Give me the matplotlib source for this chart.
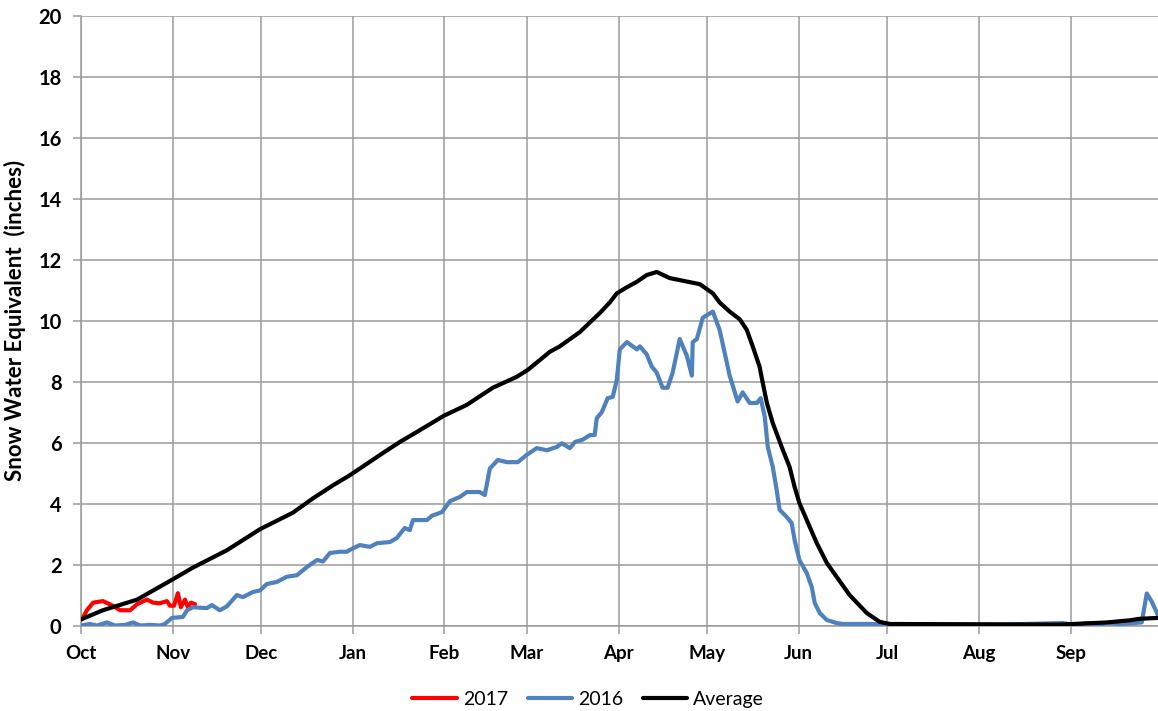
import matplotlib
matplotlib.use("Agg")
import matplotlib.pyplot as plt

# ---- data (day of water year, SWE inches) ----
avg_day = [0.0, 7.4, 19.0, 30.8, 37.9, 49.4, 60.6, 71.7, 78.5, 85.3, 91.0, 102.2, 107.9, 113.7,
           122.8, 130.6, 139.4, 147.5, 151.3, 158.7, 162.1, 168.9, 175.6, 179.0, 181.4, 184.8,
           188.2, 191.5, 194.9, 199.3, 209.5, 213.9, 216.2, 219.6, 223.0, 225.4, 227.4, 229.7,
           230.6, 232.2, 234.2, 237.6, 239.9, 241.6, 243.2, 245.7, 249.1, 252.5, 255.8, 260.2,
           266.0, 270.4, 273.8, 331.3, 347.2, 355.0, 358.4, 364.8]
avg_val = [0.2, 0.5, 0.85, 1.5, 1.9, 2.47, 3.16, 3.7, 4.17, 4.6, 4.93, 5.66, 6.02, 6.35,
           6.88, 7.24, 7.8, 8.16, 8.39, 8.98, 9.16, 9.63, 10.25, 10.6, 10.9, 11.1,
           11.28, 11.5, 11.6, 11.4, 11.2, 10.9, 10.6, 10.3, 10.05, 9.7, 9.16, 8.5,
           8.06, 7.3, 6.64, 5.76, 5.2, 4.54, 4.02, 3.46, 2.7, 2.05, 1.6, 1.0,
           0.41, 0.12, 0.05, 0.03, 0.1, 0.17, 0.22, 0.25]

y2016_day = [0.0, 3.0, 5.4, 8.8, 11.5, 14.9, 17.6, 20.0, 23.4, 26.7, 28.4, 30.8, 34.5, 35.9,
             37.9, 42.6, 44.3, 47.0, 49.4, 52.8, 54.8, 58.2, 60.6, 62.9, 66.3, 69.7, 73.1,
             76.5, 79.9, 81.9, 84.3, 87.6, 90.0, 91.0, 94.4, 97.8, 100.2, 104.6, 106.9,
             109.6, 111.3, 112.4, 117.1, 118.8, 122.2, 124.9, 128.3, 130.6, 135.0, 136.7,
             138.4, 141.1, 144.2, 147.9, 150.9, 154.3, 157.7, 161.1, 162.8, 165.5, 167.2,
             169.9, 172.3, 173.9, 174.6, 176.3, 178.3, 180.0, 181.4, 182.4, 184.8, 188.2,
             189.2, 191.5, 193.2, 194.9, 196.9, 198.6, 200.3, 202.7, 205.1, 206.8, 207.1,
             208.5, 210.5, 213.9, 216.2, 219.6, 222.3, 224.0, 226.4, 228.8, 230.1, 231.5,
             232.5, 234.2, 235.5, 236.5, 238.9, 240.6, 241.6, 243.2, 245.7, 247.4, 248.4,
             250.1, 252.5, 255.8, 257.9, 267.0, 277.2, 294.1, 311.0, 332.3, 336.4, 340.8,
             344.8, 347.2, 351.6, 359.1, 360.8, 362.4, 364.8]
y2016_val = [0.0, 0.05, 0.0, 0.1, 0.0, 0.02, 0.1, 0.0, 0.02, 0.0, 0.05, 0.25, 0.28, 0.5,
             0.6, 0.57, 0.67, 0.5, 0.63, 1.0, 0.93, 1.1, 1.15, 1.36, 1.43, 1.6, 1.65,
             1.92, 2.15, 2.1, 2.38, 2.42, 2.42, 2.48, 2.64, 2.58, 2.7, 2.74, 2.87,
             3.2, 3.13, 3.46, 3.46, 3.6, 3.72, 4.08, 4.22, 4.38, 4.38, 4.28,
             5.15, 5.43, 5.36, 5.36, 5.6, 5.82, 5.75, 5.86, 5.98, 5.82, 6.02,
             6.1, 6.25, 6.25, 6.8, 7.0, 7.46, 7.5, 8.06, 9.06, 9.3, 9.06,
             9.16, 8.9, 8.5, 8.3, 7.8, 7.8, 8.3, 9.4, 8.85, 8.2, 9.3,
             9.4, 10.1, 10.3, 9.7, 8.2, 7.35, 7.65, 7.3, 7.3, 7.46, 6.84,
             5.86, 5.2, 4.45, 3.8, 3.56, 3.36, 2.8, 2.15, 1.72, 1.26, 0.74,
             0.41, 0.18, 0.08, 0.05, 0.05, 0.03, 0.03, 0.03, 0.08, 0.02, 0.08,
             0.02, 0.08, 0.05, 0.1, 1.05, 0.8, 0.3]

y2017_day = [0.3, 2.0, 4.1, 7.4, 10.8, 13.2, 16.6, 19.0, 22.3, 24.4, 26.7, 29.1, 30.1, 31.5,
             32.8, 33.8, 35.2, 36.2, 37.2, 38.6]
y2017_val = [0.2, 0.5, 0.75, 0.8, 0.65, 0.5, 0.5, 0.7, 0.85, 0.75, 0.73, 0.8, 0.65, 0.65,
             1.06, 0.6, 0.85, 0.6, 0.75, 0.7]

month_pos = [0, 31, 61, 92, 123, 151, 182, 212, 243, 273, 304, 335]
month_labels = ["Oct", "Nov", "Dec", "Jan", "Feb", "Mar", "Apr", "May", "Jun", "Jul", "Aug", "Sep"]
y_ticks = [0, 2, 4, 6, 8, 10, 12, 14, 16, 18, 20]

plt.rcParams['font.family'] = ['Lato', 'DejaVu Sans']

fig = plt.figure(figsize=(11.58, 7.11), dpi=100)
ax = fig.add_axes([81 / 1158, 85.5 / 711, 1 - 81 / 1158 + 0.001, 609.5 / 711])

grid_c = "#9a9a9a"
ax.plot(y2017_day, y2017_val, color="#ff0000", lw=3.0, label="2017", zorder=3,
        solid_joinstyle="round", solid_capstyle="round")
ax.plot(y2016_day, y2016_val, color="#4f81bd", lw=3.0, label="2016", zorder=4,
        solid_joinstyle="round", solid_capstyle="round")
ax.plot(avg_day, avg_val, color="#000000", lw=3.0, label="Average", zorder=5,
        solid_joinstyle="round", solid_capstyle="round")

ax.set_xlim(0, 365)
ax.set_ylim(0, 20)
ax.set_xticks(month_pos)
ax.set_xticklabels(month_labels)
ax.set_yticks(y_ticks)
ax.grid(True, color=grid_c, lw=1.1, zorder=0)
ax.set_axisbelow(True)

for s in ["top", "right"]:
    ax.spines[s].set_visible(False)
for s in ["left", "bottom"]:
    ax.spines[s].set_color(grid_c)
    ax.spines[s].set_linewidth(1.1)

ax.tick_params(axis="both", direction="out", length=6, width=1.1, color=grid_c)
ax.tick_params(axis="x", pad=8, labelsize=13.5)
ax.tick_params(axis="y", pad=8, labelsize=14.5)
for lab in ax.get_xticklabels() + ax.get_yticklabels():
    lab.set_fontweight("bold")

ax.set_ylabel("Snow Water Equivalent  (inches)", fontsize=16, fontweight="bold", labelpad=9)

fig.legend(loc="lower center", bbox_to_anchor=(0.508, -0.02), ncol=3, frameon=False,
           fontsize=14, handlelength=2.3, handletextpad=0.3, columnspacing=1.0)

fig.savefig("out.png", dpi=100)
